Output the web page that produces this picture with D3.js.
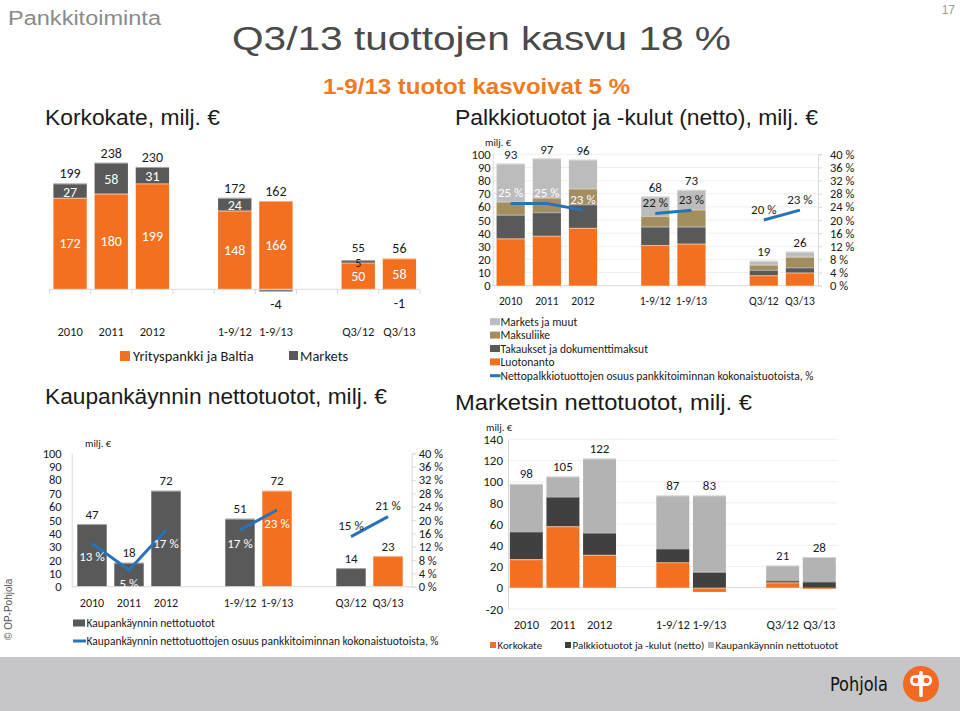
<!DOCTYPE html>
<html><head><meta charset="utf-8">
<script src="https://cdn.jsdelivr.net/npm/d3@7"></script>
<style>
body{margin:0;background:#fff}
svg{display:block}
text{font-family:Carlito,Calibri,Lato,sans-serif}
.hd{font-family:"Liberation Sans Narrow","Arial Narrow","Liberation Sans",Arial,sans-serif}
</style>
</head><body>
<script>
// ---------- DATA ----------
const periods = ["2010","2011","2012","1-9/12","1-9/13","Q3/12","Q3/13"];
const slots = ["2010","2011","2012","gapA","1-9/12","1-9/13","gapB","Q3/12","Q3/13"];
const tickLabels = ["2010","2011","2012","","1-9/12","1-9/13","","Q3/12","Q3/13"];
const lineGroups = [[0,1,2],[3,4],[5,6]];

// Korkokate
const korkoYritys = [172,180,199,148,166,50,58];
const korkoMarkets = [27,58,31,24,-4,5,-1];
const korkoTotal = [199,238,230,172,162,55,56];

// Palkkiotuotot ja -kulut
const palkLuotonanto = [36,38,44,31,32,8,10];
const palkTakaukset = [18,18,18,14,13,4,4];
const palkMaksuliike = [10,11,12,8,13,4,8];
const palkMarketsMuut = [29,30,22,15,15,3,4];
const palkTotal = [93,97,96,68,73,19,26];
const palkShare = [25,25,23,22,23,20,23];

// Kaupankäynnin nettotuotot
const kaupValues = [47,18,72,51,72,14,23];
const kaupShare = [13,5,17,17,23,15,21];

// Marketsin nettotuotot
const mKorko = [27,58,31,24,-4,5,-1];
const mPalk = [26,28,21,13,15,2,6];
const mKaup = [45,19,70,50,72,14,23];
const mTotal = [98,105,122,87,83,21,28];

const ticks100 = [0,10,20,30,40,50,60,70,80,90,100];
const ticksPct = [0,4,8,12,16,20,24,28,32,36,40];
const ticksMarkets = [-20,0,20,40,60,80,100,120,140];

// ---------- STYLE ----------
const C = {orange:"#f37021", gray:"#595959", dark:"#404040", tan:"#a38e60", light:"#bcbcbc", blue:"#2673b8", axis:"#d9d9d9", grid:"#efefef", txt:"#1a1a1a"};

const svg = d3.select("body").append("svg").attr("width",960).attr("height",711);

// ---------- HEADER ----------
svg.append("text").attr("class","hd").attr("x",8).attr("y",25).attr("font-size",20).attr("fill","#8a8a8a").attr("textLength",153).attr("lengthAdjust","spacingAndGlyphs").text("Pankkitoiminta");
svg.append("text").attr("class","hd").attr("x",955).attr("y",14).attr("text-anchor","end").attr("font-size",12).attr("fill","#9a9a9a").text("17");
svg.append("text").attr("class","hd").attr("x",232).attr("y",50).attr("font-size",33).attr("fill","#4a4a4a").attr("textLength",499).attr("lengthAdjust","spacingAndGlyphs").text("Q3/13 tuottojen kasvu 18 %");
svg.append("text").attr("class","hd").attr("x",323).attr("y",94).attr("font-size",22).attr("font-weight","bold").attr("fill","#f07a22").attr("textLength",307).attr("lengthAdjust","spacingAndGlyphs").text("1-9/13 tuotot kasvoivat 5 %");
const subt = [
  {t:"Korkokate, milj. €", x:45, y:125, w:175},
  {t:"Palkkiotuotot ja -kulut (netto), milj. €", x:455, y:125, w:363},
  {t:"Kaupankäynnin nettotuotot, milj. €", x:45, y:404, w:342},
  {t:"Marketsin nettotuotot, milj. €", x:455, y:410, w:297}
];
subt.forEach(s=>svg.append("text").attr("class","hd").attr("x",s.x).attr("y",s.y).attr("font-size",22).attr("fill","#1a1a1a").attr("textLength",s.w).attr("lengthAdjust","spacingAndGlyphs").text(s.t));

// ---------- HELPERS ----------
function bandX(range, pi, po){
  return d3.scaleBand().domain(slots).range(range).paddingInner(pi).paddingOuter(po);
}
function catAxis(g, x, y, size){
  const ax = d3.axisBottom(x).tickSize(0).tickPadding(0).tickFormat((d,i)=>tickLabels[i]);
  const a = g.append("g").attr("transform",`translate(0,${y})`).call(ax);
  a.select(".domain").remove();
  a.selectAll("text").attr("font-size",size).attr("fill",C.txt).attr("dy","0.35em").style("font-family","Carlito,Calibri,Lato,sans-serif");
}
function valAxis(g, scale, xpos, ticks, fmt, side, size, pad){
  const ax = (side==="left"?d3.axisLeft(scale):d3.axisRight(scale)).tickValues(ticks).tickSize(side==="left"?0:4).tickPadding(pad).tickFormat(fmt);
  const a = g.append("g").attr("transform",`translate(${xpos},0)`).call(ax);
  a.select(".domain").attr("stroke",C.axis);
  a.selectAll(".tick line").attr("stroke",C.axis);
  a.selectAll("text").attr("font-size",size).attr("fill",C.txt).style("font-family","Carlito,Calibri,Lato,sans-serif");
  return a;
}
function stackBars(g, x, y, rows, keys, colors){
  const series = d3.stack().keys(keys).offset(d3.stackOffsetDiverging)(rows);
  series.forEach((s,k)=>{
    g.selectAll(null).data(s).enter().append("rect")
      .attr("x",d=>x(d.data.period)).attr("width",x.bandwidth())
      .attr("y",d=>y(Math.max(d[0],d[1]))).attr("height",d=>Math.abs(y(d[0])-y(d[1])))
      .attr("fill",colors[k]);
    g.selectAll(null).data(s.filter(d=>Math.abs(y(d[0])-y(d[1]))>1.5)).enter().append("line")
      .attr("x1",d=>x(d.data.period)).attr("x2",d=>x(d.data.period)+x.bandwidth())
      .attr("y1",d=>y(Math.max(d[0],d[1]))+0.5).attr("y2",d=>y(Math.max(d[0],d[1]))+0.5)
      .attr("stroke","rgba(255,255,255,0.45)").attr("stroke-width",1.2);
  });
  return series;
}
function shareLines(g, x, yp, vals){
  const line = d3.line().x(i=>x(periods[i])+x.bandwidth()/2).y(i=>yp(vals[i]));
  lineGroups.forEach(gr=>g.append("path").attr("d",line(gr)).attr("fill","none").attr("stroke",C.blue).attr("stroke-width",3).attr("stroke-linecap","butt"));
}
function label(g, x, y, t, size, fill, anchor){
  return g.append("text").attr("x",x).attr("y",y).attr("text-anchor",anchor||"middle").attr("dy","0.35em").attr("font-size",size).attr("fill",fill).text(t);
}

// ---------- CHART 1: Korkokate ----------
{
  const g = svg.append("g");
  const x = bandX([49.5,420],0.19,0.095);
  const y = d3.scaleLinear().domain([0,250]).range([289.3,156.3]);
  const rows = periods.map((p,i)=>({period:p, yritys:korkoYritys[i], markets:korkoMarkets[i]}));
  stackBars(g,x,y,rows,["yritys","markets"],[C.orange,C.gray]);
  g.append("line").attr("x1",x.range()[0]).attr("x2",x.range()[1]).attr("y1",y(0)).attr("y2",y(0)).attr("stroke",C.axis);
  d3.range(slots.length+1).forEach(i=>{
    const bx = x.range()[0] + i*x.step();
    g.append("line").attr("x1",bx).attr("x2",bx).attr("y1",y(0)).attr("y2",y(0)+5).attr("stroke",C.axis);
  });
  catAxis(g,x,332,12.5);
  periods.forEach((p,i)=>{
    const cx = x(p)+x.bandwidth()/2;
    const top = korkoYritys[i] + Math.max(0,korkoMarkets[i]);
    const m = korkoMarkets[i];
    const small = m>=0 && m<10;
    label(g,cx,y(top)-(small?13:10),korkoTotal[i],small?13:14,C.txt);
    label(g,cx,y(korkoYritys[i]/2),korkoYritys[i],14,"#fff");
    if(m>=0) label(g,cx,y(korkoYritys[i]+m/2)+1,m,small?12:14,small?C.txt:"#fff");
    else label(g,cx,y(m)+13,m,14,C.txt);
  });
  g.append("rect").attr("x",120).attr("y",351).attr("width",10).attr("height",10).attr("fill",C.orange);
  label(g,133,356,"Yrityspankki ja Baltia",14.5,C.txt,"start");
  g.append("rect").attr("x",289).attr("y",351).attr("width",9).attr("height",9).attr("fill",C.gray);
  label(g,300,356,"Markets",14.5,C.txt,"start");
}

// ---------- CHART 2: Palkkiotuotot ----------
{
  const g = svg.append("g");
  const x = bandX([492.6,818],0.22,0.11);
  const y = d3.scaleLinear().domain([0,100]).range([285.7,154.3]);
  const yp = d3.scaleLinear().domain([0,40]).range([285.7,154.3]);
  ticks100.forEach(t=>{ if(t>0) g.append("line").attr("x1",492.6).attr("x2",818).attr("y1",y(t)).attr("y2",y(t)).attr("stroke",C.grid); });
  valAxis(g,y,492.6,ticks100,d=>d,"left",12.5,2);
  valAxis(g,yp,818,ticksPct,d=>d+" %","right",12.5,8);
  g.append("line").attr("x1",492.6).attr("x2",818).attr("y1",y(0)).attr("y2",y(0)).attr("stroke",C.axis);
  const rows = periods.map((p,i)=>({period:p, lu:palkLuotonanto[i], ta:palkTakaukset[i], ma:palkMaksuliike[i], mm:palkMarketsMuut[i]}));
  stackBars(g,x,y,rows,["lu","ta","ma","mm"],[C.orange,C.gray,C.tan,C.light]);
  shareLines(g,x,yp,palkShare);
  catAxis(g,x,301,11.5);
  label(g,485,142,"milj. €",10.5,C.txt,"start");
  periods.forEach((p,i)=>{
    const cx = x(p)+x.bandwidth()/2;
    label(g,cx,y(palkTotal[i])-9,palkTotal[i],13,C.txt);
    label(g,cx,yp(palkShare[i])-11,palkShare[i]+" %",13,i<3?"#fff":C.txt);
  });
  const leg = [["Markets ja muut",C.light],["Maksuliike",C.tan],["Takaukset ja dokumenttimaksut",C.gray],["Luotonanto",C.orange]];
  leg.forEach((l,k)=>{
    const ly = 321.7 + k*13.4;
    g.append("rect").attr("x",490).attr("y",ly-3.5).attr("width",10).attr("height",7).attr("fill",l[1]);
    label(g,500.5,ly,l[0],11.5,C.txt,"start");
  });
  g.append("line").attr("x1",490).attr("x2",500.5).attr("y1",375.7).attr("y2",375.7).attr("stroke",C.blue).attr("stroke-width",3);
  label(g,500.5,375.7,"Nettopalkkiotuottojen osuus pankkitoiminnan kokonaistuotoista, %",11.5,C.txt,"start");
}

// ---------- CHART 3: Kaupankäynnin nettotuotot ----------
{
  const g = svg.append("g");
  const x = bandX([73.5,406.5],0.205,0.1025);
  const y = d3.scaleLinear().domain([0,100]).range([586.7,453.3]);
  const yp = d3.scaleLinear().domain([0,40]).range([586.7,453.3]);
  valAxis(g,y,71.7,ticks100,d=>d,"left",12.5,10);
  valAxis(g,yp,411.7,ticksPct,d=>d+" %","right",12.5,3);
  g.selectAll(null).data(periods).enter().append("rect")
    .attr("x",p=>x(p)).attr("width",x.bandwidth())
    .attr("y",(p,i)=>y(kaupValues[i])).attr("height",(p,i)=>y(0)-y(kaupValues[i]))
    .attr("fill",(p,i)=>(i===4||i===6)?C.orange:C.gray);
  g.selectAll(null).data(periods).enter().append("line")
    .attr("x1",p=>x(p)).attr("x2",p=>x(p)+x.bandwidth())
    .attr("y1",(p,i)=>y(kaupValues[i])+0.5).attr("y2",(p,i)=>y(kaupValues[i])+0.5)
    .attr("stroke","rgba(255,255,255,0.45)").attr("stroke-width",1.2);
  g.append("line").attr("x1",71.7).attr("x2",411.7).attr("y1",y(0)).attr("y2",y(0)).attr("stroke",C.axis);
  shareLines(g,x,yp,kaupShare);
  catAxis(g,x,603,12);
  label(g,85,443,"milj. €",10.5,C.txt,"start");
  periods.forEach((p,i)=>{
    const cx = x(p)+x.bandwidth()/2;
    label(g,cx,y(kaupValues[i])-10,kaupValues[i],13,C.txt);
    if(i<5) label(g,cx,yp(kaupShare[i])+13,kaupShare[i]+" %",13,"#fff");
    else label(g,cx,yp(kaupShare[i])-11,kaupShare[i]+" %",13,C.txt);
  });
  g.append("rect").attr("x",73).attr("y",619.5).attr("width",12).attr("height",7).attr("fill",C.gray);
  label(g,86.5,623,"Kaupankäynnin nettotuotot",11.5,C.txt,"start");
  g.append("line").attr("x1",73).attr("x2",86).attr("y1",641).attr("y2",641).attr("stroke",C.blue).attr("stroke-width",3);
  label(g,86.5,641,"Kaupankäynnin nettotuottojen osuus pankkitoiminnan kokonaistuotoista, %",11.5,C.txt,"start");
}

// ---------- CHART 4: Marketsin nettotuotot ----------
{
  const g = svg.append("g");
  const x = bandX([508,837.6],0.1,0.05);
  const y = d3.scaleLinear().domain([-20,140]).range([608.9,439.3]);
  ticksMarkets.forEach(t=>{ if(t!==0) g.append("line").attr("x1",508).attr("x2",837.6).attr("y1",y(t)).attr("y2",y(t)).attr("stroke",C.grid); });
  valAxis(g,y,508,ticksMarkets,d=>d,"left",13,5);
  g.append("line").attr("x1",508).attr("x2",837.6).attr("y1",y(0)).attr("y2",y(0)).attr("stroke",C.axis);
  const rows = periods.map((p,i)=>({period:p, ko:mKorko[i], pa:mPalk[i], ka:mKaup[i]}));
  stackBars(g,x,y,rows,["ko","pa","ka"],[C.orange,C.dark,"#b3b3b3"]);
  catAxis(g,x,625,12.5);
  label(g,486,427,"milj. €",10.5,C.txt,"start");
  periods.forEach((p,i)=>{
    const cx = x(p)+x.bandwidth()/2;
    const top = Math.max(0,mKorko[i])+mPalk[i]+mKaup[i];
    label(g,cx,y(top)-10,mTotal[i],13,C.txt);
  });
  const leg = [["Korkokate",C.orange,490],["Palkkiotuotot ja -kulut (netto)",C.dark,565],["Kaupankäynnin nettotuotot","#b3b3b3",708]];
  leg.forEach(l=>{
    g.append("rect").attr("x",l[2]).attr("y",642).attr("width",6).attr("height",6).attr("fill",l[1]);
    label(g,l[2]+7.5,645,l[0],11,C.txt,"start");
  });
}

// ---------- FOOTER ----------
svg.append("rect").attr("x",0).attr("y",657).attr("width",960).attr("height",54).attr("fill","#c6c6c8");
svg.append("text").attr("x",830).attr("y",691).attr("font-size",19).attr("fill","#111").style("font-family","'DejaVu Sans Condensed','Liberation Sans',sans-serif").attr("textLength",58).attr("lengthAdjust","spacingAndGlyphs").text("Pohjola");
{
  const lg = svg.append("g").attr("transform","translate(921,684)");
  lg.append("circle").attr("r",18).attr("fill","#f26a21");
  lg.append("rect").attr("x",-11).attr("y",-9).attr("width",22).attr("height",11).attr("rx",5.5).attr("fill","#fff");
  lg.append("rect").attr("x",-1.8).attr("y",-13).attr("width",3.6).attr("height",26).attr("rx",1.5).attr("fill","#fff");
  lg.append("circle").attr("cx",-5.5).attr("cy",-3.5).attr("r",2.8).attr("fill","#f26a21");
  lg.append("circle").attr("cx",5.5).attr("cy",-3.5).attr("r",2.8).attr("fill","#f26a21");
}
svg.append("text").attr("transform","translate(12,640) rotate(-90)").attr("font-size",10).attr("fill","#555").style("font-family","'Liberation Sans',Arial,sans-serif").text("© OP-Pohjola");
</script>
</body></html>
